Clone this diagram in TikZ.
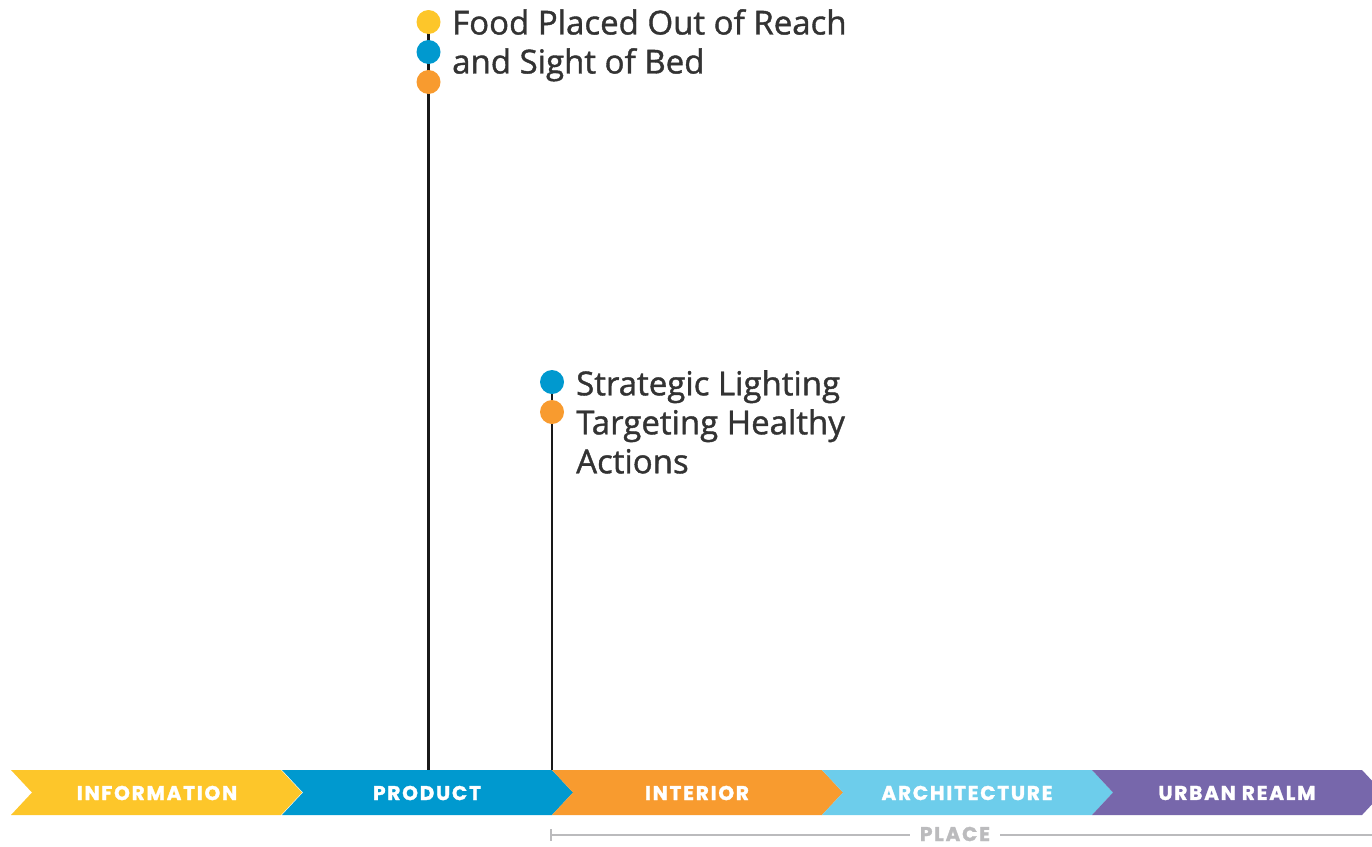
\documentclass[tikz,border=0pt]{standalone}
\usepackage{fontspec}
\setmainfont{Open Sans}
\newfontfamily\lblfont{Open Sans}[FakeBold=1.2]
\newfontfamily\bandfont{Poppins}[FakeBold=1.5,LetterSpace=9]
\definecolor{cyel}{HTML}{FDC62A}
\definecolor{cblu}{HTML}{0099CF}
\definecolor{cora}{HTML}{F89B2F}
\definecolor{clbl}{HTML}{6DCDEB}
\definecolor{cpur}{HTML}{7767AB}
\definecolor{ctxt}{HTML}{333333}
\definecolor{cgry}{HTML}{BBBBBD}
\tikzset{
  dot/.style={circle,inner sep=0pt,minimum size=24pt,fill=#1},
  stem/.style={line width=2.8pt,draw=black!90},
  lbl/.style={anchor=north west,align=left,font=\lblfont\fontsize{33}{39}\selectfont,text=ctxt,inner sep=0pt},
  bandlbl/.style={text=white,font=\bandfont\bfseries\fontsize{20}{22}\selectfont,inner sep=0pt},
}
\begin{document}
\begin{tikzpicture}[x=1pt,y=-1pt]
\useasboundingbox (0,0) rectangle (1372,846);
\begin{scope}
\clip (0,0) rectangle (1372,846);
% chevron band
\foreach \c/\xa [count=\i] in {cyel/11,cblu/282,cora/552,clbl/822,cpur/1092}{
  \fill[\c] (\xa,770) -- (\xa+270,770) -- (\xa+291,792.5) -- (\xa+270,815) -- (\xa,815) -- (\xa+21,792.5) -- cycle;
}
\end{scope}
\node[bandlbl] (b1) at (157,793) {INFORMATION};
\node[bandlbl] (b2) at (427,793) {PRODUCT};
\node[bandlbl] (b3) at (697,793) {INTERIOR};
\node[bandlbl] (b4) at (967,793) {ARCHITECTURE};
\node[bandlbl] (b5) at (1237,793) {URBAN REALM};
% place bar
\node[bandlbl,text=cgry] (place) at (955,834) {PLACE};
\coordinate (pl) at (551,835);
\coordinate (pr) at (1372,835);
\draw[cgry,line width=1.6pt] (pl) -- ([xshift=-10pt]place.west |- pl);
\draw[cgry,line width=1.6pt] ([xshift=10pt]place.east |- pr) -- (pr);
\draw[cgry,line width=1.6pt] (551,829) -- (551,841);
% stem 1
\coordinate (s1) at (428.5,770);
\draw[stem] (428.5,22) -- (s1);
\node[dot=cyel] (d1a) at (428.5,22) {};
\node[dot=cblu] (d1b) at (428.5,52) {};
\node[dot=cora] (d1c) at (428.5,82) {};
\node[lbl] (t1) at (452,9) {Food Placed Out of Reach\\and Sight of Bed};
% stem 2
\coordinate (s2) at (552,770);
\draw[stem] (552,382) -- (s2);
\node[dot=cblu] (d2a) at (552,382) {};
\node[dot=cora] (d2b) at (552,412) {};
\node[lbl] (t2) at (576,370) {Strategic Lighting\\Targeting Healthy\\Actions};
\end{tikzpicture}
\end{document}
